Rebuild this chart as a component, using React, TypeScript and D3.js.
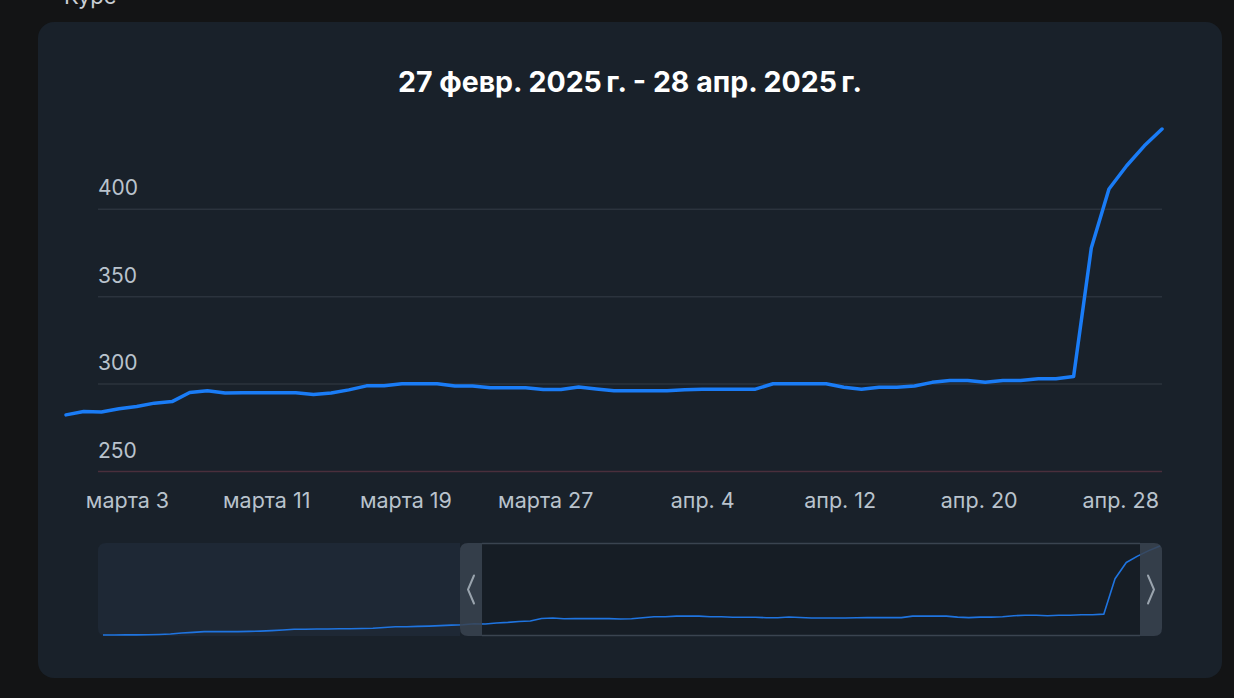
import React from 'react';
import * as d3 from 'd3';

// main chart: daily close, 25 Feb .. 28 Apr 2025
const mainStart = new Date(2025, 1, 25);
const mainValues = [
  282.4, 284.3, 284.0, 285.9, 287.2, 289.1, 290.0, 295.2, 296.2, 294.9,
  295.0, 295.0, 295.0, 295.0, 294.1, 294.9, 296.7, 299.0, 299.0, 300.2,
  300.2, 300.2, 298.9, 298.9, 297.9, 297.9, 297.9, 296.9, 296.9, 298.3,
  297.2, 296.2, 296.2, 296.2, 296.2, 296.7, 297.1, 297.1, 297.1, 297.1,
  300.2, 300.2, 300.2, 300.2, 298.2, 297.1, 298.2, 298.2, 298.9, 301.0,
  302.1, 302.1, 301.0, 302.1, 302.1, 303.0, 303.0, 304.3, 377.8, 411.6,
  424.9, 436.3, 445.9,
];

// navigator history before the main window: 24 Jan .. 24 Feb
const navStart = new Date(2025, 0, 24);
const navEarlierValues = [
  261.0, 261.0, 261.2, 261.3, 261.5, 262.0, 263.0, 265.0, 266.5, 268.0,
  268.0, 268.0, 268.0, 268.5, 269.0, 270.0, 271.5, 273.0, 273.0, 273.5,
  273.5, 274.0, 274.0, 274.5, 275.0, 276.5, 278.0, 278.0, 279.0, 279.5,
  280.5, 281.5,
];

const yTicks = [250, 300, 350, 400];
const xTickDates = [
  new Date(2025, 2, 3), new Date(2025, 2, 11), new Date(2025, 2, 19), new Date(2025, 2, 27),
  new Date(2025, 3, 4), new Date(2025, 3, 12), new Date(2025, 3, 20), new Date(2025, 3, 28),
];
const xTickLabels = ['марта 3', 'марта 11', 'марта 19', 'марта 27', 'апр. 4', 'апр. 12', 'апр. 20', 'апр. 28'];
const title = '27 февр. 2025\u202Fг. - 28 апр. 2025\u202Fг.';

type Pt = { date: Date; value: number };

const addDays = (d: Date, n: number) => new Date(d.getFullYear(), d.getMonth(), d.getDate() + n);

const mainData: Pt[] = mainValues.map((v, i) => ({ date: addDays(mainStart, i), value: v }));
const navData: Pt[] = navEarlierValues
  .map((v, i) => ({ date: addDays(navStart, i), value: v }))
  .concat(mainData);

const FONT = 'Inter, "Noto Sans", sans-serif';

export default function App() {
  const W = 1234;
  const H = 698;

  const x = d3.scaleTime()
    .domain([mainData[0].date, mainData[mainData.length - 1].date])
    .range([66, 1162]);
  const y = d3.scaleLinear().domain([250, 400]).range([471.5, 209.3]);

  const line = d3.line<Pt>().x(d => x(d.date)).y(d => y(d.value));

  // navigator
  const nav = { x0: 98, x1: 1162, y0: 543, y1: 636 };
  const nx = d3.scaleTime()
    .domain([navData[0].date, navData[navData.length - 1].date])
    .range([103, 1160]);
  const ny = d3.scaleLinear()
    .domain(d3.extent(navData, d => d.value) as [number, number])
    .range([635, 546]);
  const navLine = d3.line<Pt>().x(d => nx(d.date)).y(d => ny(d.value));
  const selL = 460;
  const selR = 1162;
  const hw = 22;

  const leftHandle = `M${selL + hw},${nav.y0} H${selL + 8} Q${selL},${nav.y0} ${selL},${nav.y0 + 8} V${nav.y1 - 8} Q${selL},${nav.y1} ${selL + 8},${nav.y1} H${selL + hw} Z`;
  const rightHandle = `M${selR - hw},${nav.y0} H${selR - 8} Q${selR},${nav.y0} ${selR},${nav.y0 + 8} V${nav.y1 - 8} Q${selR},${nav.y1} ${selR - 8},${nav.y1} H${selR - hw} Z`;
  const midY = (nav.y0 + nav.y1) / 2;

  return (
    <div style={{ position: 'absolute', left: 0, top: 0, width: W, height: H, background: '#131415' }}>
      <svg width={W} height={H} viewBox={`0 0 ${W} ${H}`} style={{ display: 'block' }}>
        <rect x={0} y={0} width={W} height={H} fill="#131415" />
        <text x={64} y={4} fill="#c9ced4" fontFamily={FONT} fontSize={22}>Курс</text>
        <rect x={38} y={22} width={1184} height={656} rx={16} fill="#19212a" />

        <text x={630} y={92} textAnchor="middle" fill="#ffffff" fontFamily={FONT} fontWeight={700} fontSize={28.5}>
          {title}
        </text>

        {/* grid + y labels */}
        {yTicks.map(t => (
          <g key={t}>
            <line x1={98} x2={1162} y1={y(t)} y2={y(t)} stroke={t === 250 ? '#4a2f3c' : '#2b333d'} strokeWidth={1.5} />
            <text x={98} y={y(t) - 14} fill="#b9c3cd" fontFamily={FONT} fontSize={21}>{t}</text>
          </g>
        ))}

        {/* x labels */}
        {xTickDates.map((d, i) => (
          <text key={i} x={x(d) - 3} y={508} textAnchor="end" fill="#b9c3cd" fontFamily={FONT} fontSize={21.5}>
            {xTickLabels[i]}
          </text>
        ))}

        <path d={line(mainData) || ''} fill="none" stroke="#1a7cf6" strokeWidth={3.5} strokeLinejoin="round" strokeLinecap="round" />

        {/* navigator */}
        <path
          d={`M${selL},${nav.y0} H${nav.x0 + 8} Q${nav.x0},${nav.y0} ${nav.x0},${nav.y0 + 8} V${nav.y1 - 8} Q${nav.x0},${nav.y1} ${nav.x0 + 8},${nav.y1} H${selL} Z`}
          fill="#1e2835"
        />
        <rect x={selL + hw} y={nav.y0} width={selR - hw - selL - hw} height={nav.y1 - nav.y0} fill="#161d25" />
        <line x1={selL + hw} x2={selR - hw} y1={nav.y0 + 0.5} y2={nav.y0 + 0.5} stroke="#3a4450" strokeWidth={1.5} />
        <line x1={selL + hw} x2={selR - hw} y1={nav.y1 - 0.5} y2={nav.y1 - 0.5} stroke="#3a4450" strokeWidth={1.5} />
        <path d={navLine(navData) || ''} fill="none" stroke="#1f74e0" strokeWidth={1.6} strokeLinejoin="round" />
        <path d={leftHandle} fill="#3a4350" fillOpacity={0.85} />
        <path d={rightHandle} fill="#3a4350" fillOpacity={0.85} />
        <path d={`M${selL + 14},${midY - 14} L${selL + 8},${midY} L${selL + 14},${midY + 14}`} fill="none" stroke="#9aa4ae" strokeWidth={2} strokeLinecap="round" />
        <path d={`M${selR - 14},${midY - 14} L${selR - 8},${midY} L${selR - 14},${midY + 14}`} fill="none" stroke="#9aa4ae" strokeWidth={2} strokeLinecap="round" />
      </svg>
    </div>
  );
}
